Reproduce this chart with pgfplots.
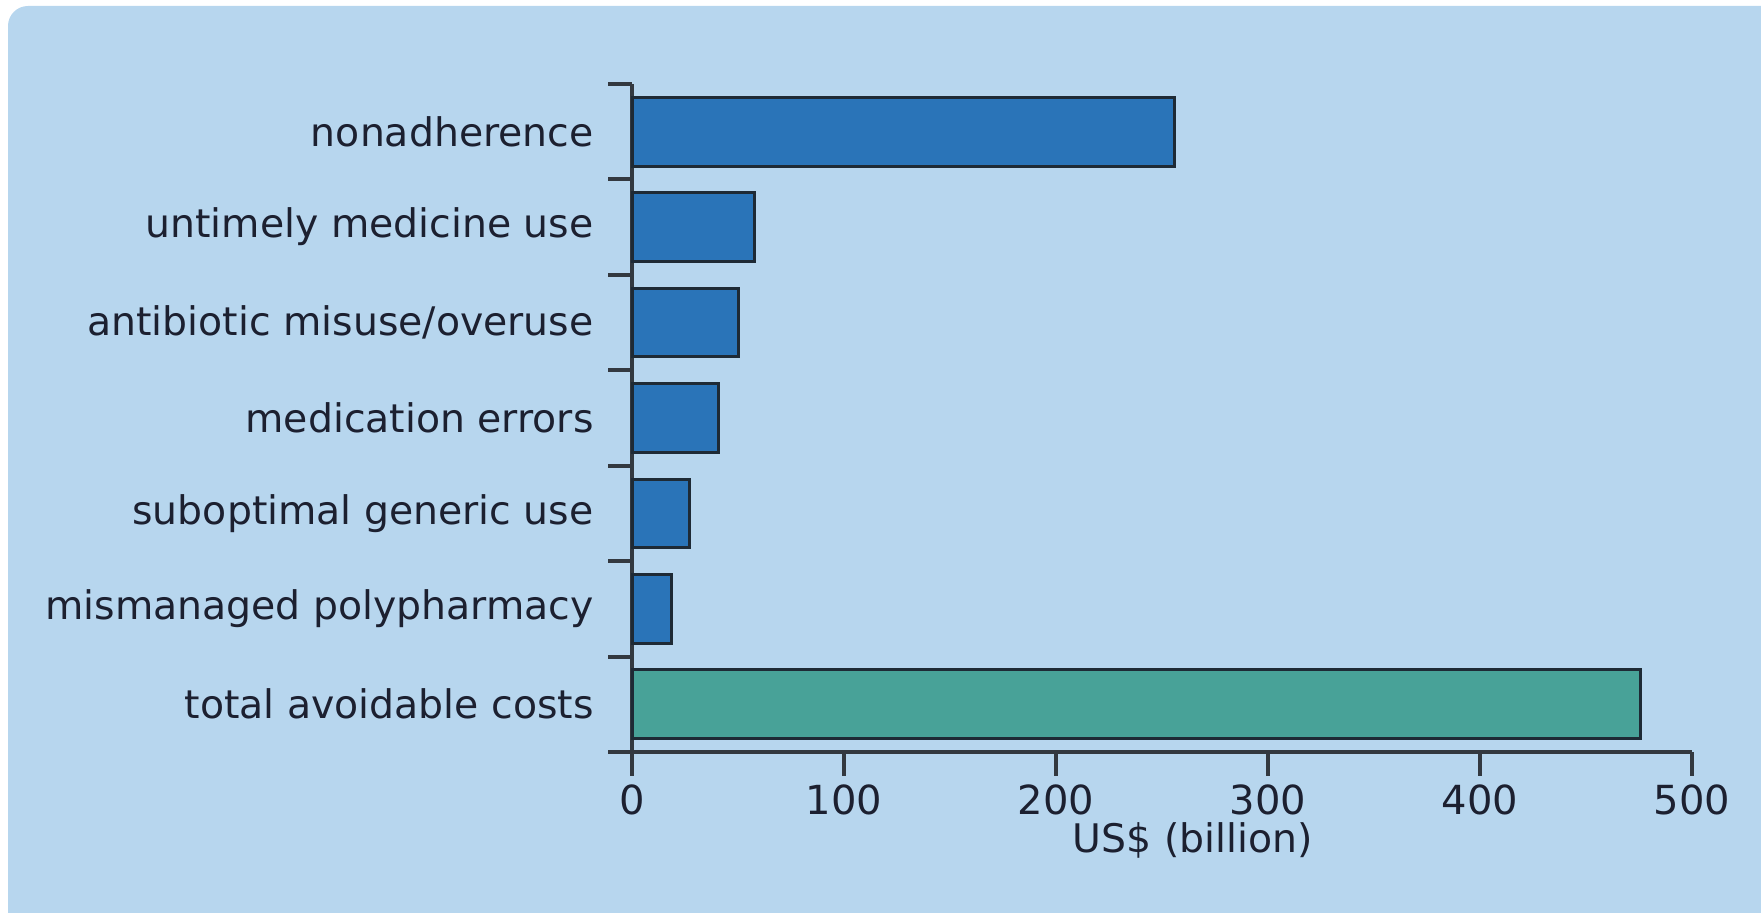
\documentclass[border=0pt]{standalone}
\usepackage{pgfplots}
\pgfplotsset{compat=1.18}
\usepackage{fontspec}
\setmainfont{DejaVu Sans}
\definecolor{bg}{HTML}{B7D6EE}
\definecolor{barblue}{HTML}{2A74B8}
\definecolor{barteal}{HTML}{48A298}
\definecolor{edge}{HTML}{1E2A35}
\definecolor{axc}{HTML}{333940}
\definecolor{txt}{HTML}{1C2030}
\begin{document}
\begin{tikzpicture}
\clip (0,0) rectangle (176.1mm,91.3mm);
\fill[bg, rounded corners=2mm] (0.8mm,-5mm) rectangle (180mm,90.7mm);
\begin{axis}[
  at={(63.2mm,16.1mm)}, anchor=south west,
  width=106mm, height=66.8mm, scale only axis,
  xbar, bar shift=0pt, bar width=0.72,
  xmin=0, xmax=500, ymin=-0.5, ymax=6.5,
  axis x line*=bottom, axis y line*=left,
  axis line style={axc, line width=0.4mm, -},
  tick align=outside,
  major tick length=2.4mm,
  tick style={axc, line width=0.4mm},
  xtick={0,100,...,500},
  ytick={-0.5,0.5,...,6.5},
  yticklabels={},
  extra y ticks={0,1,2,3,4,5,6},
  extra y tick labels={total avoidable costs, mismanaged polypharmacy, suboptimal generic use, medication errors, antibiotic misuse/overuse, untimely medicine use, nonadherence},
  extra y tick style={major tick length=0pt},
  yticklabel style={font=\fontsize{11.2}{14}\selectfont, text=txt, xshift=-2.6mm},
  xticklabel style={font=\fontsize{11.4}{14}\selectfont, text=txt, yshift=0.4mm},
  /pgf/number format/assume math mode=true,
  xlabel={US\$ (billion)},
  xlabel style={at={(axis description cs:0.529,-0.133)}, anchor=center, font=\fontsize{11.2}{14}\selectfont, text=txt},
  clip=false,
]
\addplot[draw=edge, line width=0.3mm, fill=barblue] coordinates {
  (18.5,1) (27,2) (41,3) (50,4) (58,5) (256,6)
};
\addplot[draw=edge, line width=0.3mm, fill=barteal] coordinates {
  (475.5,0)
};
\end{axis}
\end{tikzpicture}
\end{document}
